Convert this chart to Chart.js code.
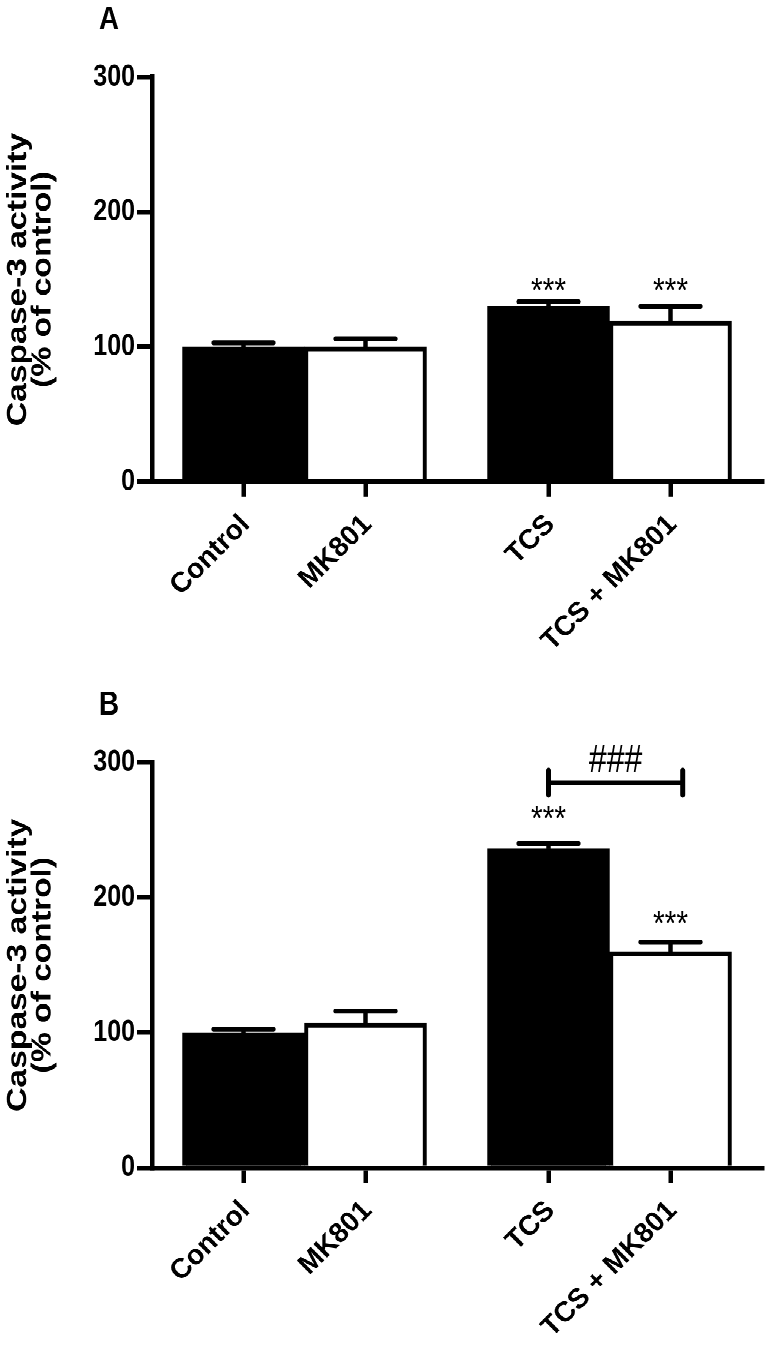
<!DOCTYPE html>
<html>
<head>
<meta charset="utf-8">
<script src="https://cdn.jsdelivr.net/npm/chart.js@4.4.1/dist/chart.umd.min.js"></script>
<style>
  html, body { margin: 0; padding: 0; background: #fff; }
  body { height: 1346px; overflow: hidden; }
  /* the original figure is stretched vertically, so draw at 1/1.2 height and scale up */
  #wrap { width: 767px; height: 1122px; transform: scaleY(1.2); transform-origin: 0 0; }
  .panel { position: relative; width: 767px; height: 561px; }
</style>
</head>
<body>
<div id="wrap">
  <div class="panel"><canvas id="chartA"></canvas></div>
  <div class="panel"><canvas id="chartB"></canvas></div>
</div>
<script>
const STRETCH = 1.2;
const groups = ['Control', 'MK801', 'TCS', 'TCS + MK801'];
// bar centres on the x axis, one unit = one bar width
const xPos = [0.75, 1.75, 3.25, 4.25];
const barFill = ['#000', '#fff', '#000', '#fff'];
const yTicks = [0, 100, 200, 300];

// panel A
const meanA = [100, 100, 130, 119];
const semA = [3, 6, 3.5, 11];
const starsA = [[3.25, 148, '***'], [4.25, 148, '***']];

// panel B
const meanB = [100, 107, 236, 160];
const semB = [2.5, 9, 4, 7];
const starsB = [[3.25, 265, '***'], [4.25, 187, '***']];
const bracketB = { from: 3.25, to: 4.35, y: 285, labelX: 3.8, labelY: 303, label: '###' };

const FONT = '"Liberation Sans", Arial, sans-serif';

// error bars, asterisks, bracket, x labels and panel letter
function marks(p) {
  return {
    id: 'marks',
    afterDatasetsDraw(chart) {
      const ctx = chart.ctx, x = chart.scales.x, y = chart.scales.y;
      const area = chart.chartArea;
      ctx.save();
      ctx.strokeStyle = '#000';
      ctx.fillStyle = '#000';

      p.mean.forEach((m, i) => {
        const px = x.getPixelForValue(xPos[i]);
        const top = y.getPixelForValue(m + p.sem[i]);
        ctx.lineWidth = 4.5;
        ctx.lineCap = 'butt';
        ctx.beginPath();
        ctx.moveTo(px, y.getPixelForValue(m));
        ctx.lineTo(px, top);
        ctx.stroke();
        ctx.lineWidth = 4.2;
        ctx.lineCap = 'round';
        ctx.beginPath();
        ctx.moveTo(px - 30, top);
        ctx.lineTo(px + 30, top);
        ctx.stroke();
      });

      ctx.textAlign = 'center';
      ctx.textBaseline = 'alphabetic';
      ctx.font = '30px ' + FONT;
      p.stars.forEach(s => {
        ctx.fillText(s[2], x.getPixelForValue(s[0]), y.getPixelForValue(s[1]) + 17);
      });

      if (p.bracket) {
        const b = p.bracket;
        const x1 = x.getPixelForValue(b.from), x2 = x.getPixelForValue(b.to);
        const by = y.getPixelForValue(b.y);
        ctx.lineCap = 'butt';
        ctx.lineWidth = 4;
        ctx.beginPath();
        ctx.moveTo(x1, by);
        ctx.lineTo(x2, by);
        ctx.stroke();
        ctx.lineWidth = 5;
        ctx.lineCap = 'round';
        ctx.beginPath();
        ctx.moveTo(x1, by - 10);
        ctx.lineTo(x1, by + 10);
        ctx.moveTo(x2, by - 10);
        ctx.lineTo(x2, by + 10);
        ctx.stroke();
        ctx.font = '32px ' + FONT;
        ctx.fillText(b.label, x.getPixelForValue(b.labelX), y.getPixelForValue(b.labelY) + 11);
      }

      // category labels at 45 deg, undoing the page stretch so they are not sheared
      ctx.font = 'bold 28px ' + FONT;
      ctx.textAlign = 'right';
      ctx.textBaseline = 'middle';
      x.ticks.forEach((t, i) => {
        ctx.save();
        ctx.translate(x.getPixelForValue(t.value) + 2, area.bottom + 38.5 / STRETCH);
        ctx.scale(1, 1 / STRETCH);
        ctx.rotate(-Math.PI / 4);
        ctx.fillText(groups[i], 0, 0);
        ctx.restore();
      });

      ctx.textAlign = 'center';
      ctx.textBaseline = 'alphabetic';
      ctx.font = 'bold 28px ' + FONT;
      ctx.fillText(p.letter, area.left - 43, area.top - 40);
      ctx.restore();
    }
  };
}

function makeChart(id, p, pad) {
  return new Chart(document.getElementById(id), {
    type: 'bar',
    data: {
      datasets: [{
        data: p.mean.map((v, i) => ({ x: xPos[i], y: v })),
        backgroundColor: barFill,
        borderColor: '#000',
        borderWidth: 4,
        borderSkipped: 'start',
        barPercentage: 1,
        categoryPercentage: 1
      }]
    },
    options: {
      responsive: true,
      maintainAspectRatio: false,
      animation: false,
      devicePixelRatio: 2,
      layout: { padding: pad },
      plugins: { legend: { display: false }, tooltip: { enabled: false } },
      scales: {
        x: {
          type: 'linear',
          offset: false,
          min: 0,
          max: 5,
          afterBuildTicks: s => { s.ticks = xPos.map(v => ({ value: v })); },
          afterFit: s => { s.height = 130; s.paddingLeft = 0; s.paddingRight = 0; },
          grid: { offset: false, drawOnChartArea: false, tickLength: 12.5, color: '#000', lineWidth: 4.5 },
          border: { color: '#000', width: 3.75 },
          ticks: { display: false }
        },
        y: {
          min: 0,
          max: 300,
          afterBuildTicks: s => { s.ticks = yTicks.map(v => ({ value: v })); },
          afterFit: s => { s.width = 152; s.paddingTop = 0; s.paddingBottom = 0; },
          grid: { drawOnChartArea: false, tickLength: 15, color: '#000', lineWidth: 3.75 },
          border: { color: '#000', width: 4.5 },
          ticks: { padding: 2, color: '#000', font: { family: FONT, weight: 'bold', size: 25 } },
          title: {
            display: true,
            text: ['Caspase-3 activity', '(% of control)'],
            color: '#000',
            font: { family: FONT, weight: 'bold', size: 28, lineHeight: 0.88 },
            padding: { top: 6, bottom: 0 }
          }
        }
      }
    },
    plugins: [marks(p)]
  });
}

makeChart('chartA', { mean: meanA, sem: semA, stars: starsA, letter: 'A' },
  { top: 64.4, bottom: 29.6, left: 0, right: 5 });
makeChart('chartB', { mean: meanB, sem: semB, stars: starsB, bracket: bracketB, letter: 'B' },
  { top: 74.4, bottom: 18.8, left: 0, right: 5 });
</script>
</body>
</html>
